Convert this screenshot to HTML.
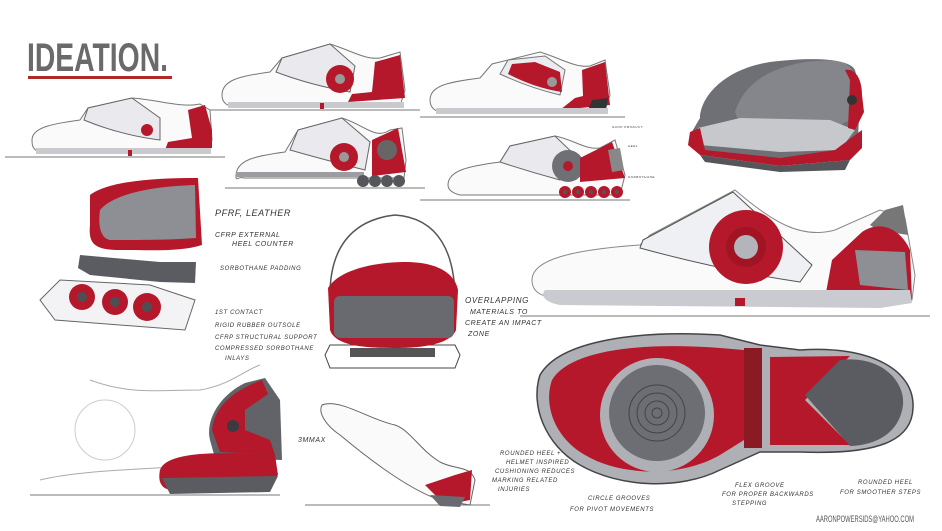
<!DOCTYPE html>
<html><head><meta charset="utf-8"><style>
html,body{margin:0;padding:0;background:#fff;}
svg{display:block}
text{font-family:"Liberation Sans",sans-serif;}
.h{font-family:"Liberation Sans",sans-serif;fill:#333;font-style:italic;letter-spacing:0.6px}
</style></head><body>
<svg width="942" height="531" viewBox="0 0 942 531" xmlns="http://www.w3.org/2000/svg">
<rect width="942" height="531" fill="#fff"/>
<!-- Title -->
<text x="27" y="71" font-size="40" font-weight="bold" fill="#6a6a6a" textLength="141" lengthAdjust="spacingAndGlyphs">IDEATION.</text>
<rect x="28" y="76" width="144" height="3" fill="#b02a2a"/>

<!-- ground lines -->
<g stroke="#777" stroke-width="1">
<line x1="5" y1="157" x2="225" y2="157"/>
<line x1="200" y1="110" x2="420" y2="110"/>
<line x1="420" y1="117" x2="625" y2="117"/>
<line x1="225" y1="188" x2="425" y2="188"/>
<line x1="420" y1="200" x2="630" y2="200"/>
<line x1="520" y1="316" x2="930" y2="316"/>
<line x1="30" y1="495" x2="280" y2="495"/>
<line x1="305" y1="505" x2="490" y2="505"/>
</g>

<!-- Shoe 1 -->
<g>
<path d="M32,140 C32,128 50,124 80,120 L88,108 L132,98 C160,100 180,108 200,104 L210,110 L212,140 L208,152 L40,152 C33,150 32,146 32,140Z" fill="#fafafa" stroke="#777"/>
<path d="M88,108 L132,98 L160,118 L160,140 Q120,135 84,120Z" fill="#eaeaee" stroke="#666"/>
<circle cx="147" cy="130" r="6" fill="#b5182a"/>
<path d="M188,110 L205,105 L212,130 L212,148 L165,150 L168,142 L192,138Z" fill="#b5182a"/>
<rect x="36" y="148" width="175" height="6" fill="#c9c9ce"/>
<rect x="128" y="150" width="4" height="6" fill="#b5182a"/>
</g>

<!-- Shoe 2 -->
<g>
<path d="M222,95 C222,80 240,76 270,72 L282,58 L330,44 C350,50 365,60 380,58 L400,52 L405,90 L400,106 L230,106 C224,104 222,100 222,95Z" fill="#fafafa" stroke="#777"/>
<path d="M282,58 L330,44 L355,66 L350,92 Q310,85 276,72Z" fill="#eaeaee" stroke="#666"/>
<circle cx="340" cy="79" r="14" fill="#b5182a"/><circle cx="340" cy="79" r="5" fill="#999"/>
<path d="M375,62 L400,55 L405,98 L348,102 L352,94 L372,92Z" fill="#b5182a"/>
<rect x="228" y="102" width="176" height="6" fill="#c9c9ce"/>
<rect x="320" y="103" width="4" height="6" fill="#b5182a"/>
</g>

<!-- Shoe 3 -->
<g>
<path d="M430,100 C430,85 450,82 480,78 L492,64 L540,52 C560,58 575,68 590,66 L605,60 L610,95 L604,112 L440,112 C432,110 430,105 430,100Z" fill="#fafafa" stroke="#777"/>
<path d="M508,60 L545,56 L565,70 L560,95 Q530,88 500,74Z" fill="#ececf0" stroke="#777"/>
<path d="M512,64 L535,62 L560,72 L562,92 Q535,88 508,74Z" fill="#b5182a"/>
<circle cx="552" cy="82" r="5" fill="#999"/>
<path d="M582,70 L605,62 L610,105 L560,110 L575,98 L583,96Z" fill="#b5182a"/>
<path d="M592,100 L608,98 L606,110 L588,110Z" fill="#333"/>
<rect x="436" y="108" width="172" height="6" fill="#c9c9ce"/>
</g>

<!-- seat top right -->
<g>
<path d="M700,118 C700,100 720,70 770,62 C820,56 850,60 855,70 L860,90 L858,140 L850,160 L780,165 L705,150 L690,135Z" fill="#6f7075"/>
<path d="M735,112 C742,90 760,70 805,62 C838,58 850,62 852,72 L850,120 L830,130 L740,125Z" fill="#85868b"/>
<path d="M698,128 L740,118 L830,120 L855,130 L840,150 L780,152 L700,145Z" fill="#c7c8cc"/>
<path d="M690,132 L700,128 L705,150 L780,158 L835,150 L862,130 L862,148 L850,160 L780,166 L700,155 L688,145Z" fill="#b5182a"/>
<path d="M845,70 C856,68 862,80 862,95 L864,112 L855,130 L848,128 L850,80Z" fill="#b5182a"/>
<circle cx="852" cy="100" r="5" fill="#333"/>
<path d="M700,155 L780,166 L850,160 L845,170 L780,172 L705,162Z" fill="#55565a"/>
</g>

<!-- Shoe 4 wheels -->
<g>
<path d="M236,176 C236,160 255,156 285,152 L298,130 L342,118 C365,125 375,140 390,130 L402,128 L406,160 L404,178 L244,178 C238,176 236,182 236,176Z" fill="#fafafa" stroke="#777"/>
<path d="M298,130 L342,118 L370,142 L365,170 Q325,160 290,150Z" fill="#eaeaee" stroke="#666"/>
<circle cx="344" cy="157" r="14" fill="#b5182a"/><circle cx="344" cy="157" r="5" fill="#999"/>
<path d="M372,140 L398,128 L406,172 L372,176Z" fill="#b5182a"/>
<circle cx="387" cy="150" r="10" fill="#666"/>
<rect x="236" y="172" width="128" height="5" fill="#9c9ca2"/>
<g fill="#55565a"><circle cx="363" cy="181" r="6"/><circle cx="375" cy="181" r="6"/><circle cx="387" cy="181" r="6"/><circle cx="399" cy="181" r="6"/></g>
</g>

<!-- Shoe 5 -->
<g>
<path d="M448,185 C448,170 470,166 500,162 L510,146 L555,136 C575,140 585,150 600,148 L615,140 L625,175 L620,195 L460,195 C452,193 448,190 448,185Z" fill="#fafafa" stroke="#777"/>
<path d="M510,146 L555,136 L580,160 L560,180 Q530,172 500,162Z" fill="#eaeaee" stroke="#666"/>
<circle cx="568" cy="166" r="16" fill="#6f7075"/><circle cx="568" cy="166" r="5" fill="#b5182a"/>
<path d="M580,158 L612,142 L625,178 L580,182Z" fill="#b5182a"/>
<path d="M608,150 L620,148 L624,170 L612,172Z" fill="#888"/>
<g fill="#b5182a"><circle cx="565" cy="192" r="6"/><circle cx="578" cy="192" r="6"/><circle cx="591" cy="192" r="6"/><circle cx="604" cy="192" r="6"/><circle cx="617" cy="192" r="6"/></g>
<g fill="#555"><circle cx="565" cy="192" r="2"/><circle cx="578" cy="192" r="2"/><circle cx="591" cy="192" r="2"/><circle cx="604" cy="192" r="2"/><circle cx="617" cy="192" r="2"/></g>
<text class="h" x="612" y="128" font-size="3">SHOP PRODUCT</text>
<text class="h" x="628" y="147" font-size="3">HEEL</text>
<text class="h" x="628" y="178" font-size="3">SORBOTHANE</text>
</g>

<!-- exploded heel -->
<g>
<path d="M90,195 C110,180 160,178 198,178 L202,245 C180,252 150,250 120,250 C95,250 88,244 90,225Z" fill="#b5182a"/>
<path d="M100,210 C115,192 160,186 195,185 L196,238 C170,240 140,240 110,240 C100,238 98,225 100,210Z" fill="#8d8f95"/>
<path d="M80,255 L160,262 L196,262 L195,283 L160,282 L90,275 L78,268Z" fill="#5b5c62"/>
<path d="M40,300 L60,280 L150,285 L195,300 L185,330 L55,320Z" fill="#f3f3f5" stroke="#666"/>
<g fill="#b5182a"><circle cx="82" cy="297" r="13"/><circle cx="115" cy="302" r="13"/><circle cx="147" cy="307" r="14"/></g>
<g fill="#4e4f55"><circle cx="82" cy="297" r="5"/><circle cx="115" cy="302" r="5"/><circle cx="147" cy="307" r="5"/></g>
<text class="h" x="215" y="216" font-size="9">PFRF, LEATHER</text>
<text class="h" x="215" y="237" font-size="7">CFRP EXTERNAL</text>
<text class="h" x="232" y="246" font-size="7">HEEL COUNTER</text>
<text class="h" x="220" y="270" font-size="6">SORBOTHANE PADDING</text>
<text class="h" x="215" y="314" font-size="6">1ST CONTACT</text>
<text class="h" x="215" y="327" font-size="6">RIGID RUBBER OUTSOLE</text>
<text class="h" x="215" y="339" font-size="6">CFRP STRUCTURAL SUPPORT</text>
<text class="h" x="215" y="350" font-size="6">COMPRESSED SORBOTHANE</text>
<text class="h" x="225" y="360" font-size="6">INLAYS</text>
</g>

<!-- rear view -->
<g>
<path d="M330,295 C330,250 350,220 395,215 C440,218 455,255 455,300 Z" fill="#fff" stroke="#555" stroke-width="1.5"/>
<path d="M325,355 L330,345 L455,345 L460,355 L455,368 L330,368Z" fill="#fff" stroke="#444"/>
<rect x="350" y="348" width="85" height="9" fill="#555"/>
<path d="M328,288 C340,268 380,262 405,262 C440,262 455,275 458,290 L456,330 C450,345 420,348 395,348 C360,348 335,345 330,330Z" fill="#b5182a"/>
<rect x="334" y="296" width="120" height="42" rx="6" fill="#686a70"/>
<text class="h" x="465" y="303" font-size="8">OVERLAPPING</text>
<text class="h" x="470" y="314" font-size="7">MATERIALS TO</text>
<text class="h" x="465" y="325" font-size="7">CREATE AN IMPACT</text>
<text class="h" x="468" y="336" font-size="7">ZONE</text>
</g>

<!-- big shoe -->
<g>
<path d="M532,280 C532,260 570,250 640,245 L650,235 L735,190 C770,220 800,240 835,230 L880,210 L905,218 L915,275 L912,300 L560,300 C540,296 532,292 532,280Z" fill="#fafafa" stroke="#888"/>
<path d="M643,240 L733,192 L812,265 L800,282 Q720,270 640,248Z" fill="#eef0f3" stroke="#555"/>
<circle cx="746" cy="247" r="37" fill="#b5182a"/><circle cx="746" cy="247" r="20" fill="#a01424"/><circle cx="746" cy="247" r="12" fill="#b3b5ba"/>
<path d="M870,225 L885,210 L903,205 L908,235 L878,230Z" fill="#777"/>
<path d="M862,232 C880,220 900,228 910,250 L912,300 L825,298 L832,260Z" fill="#b5182a"/>
<path d="M855,250 L905,252 L908,290 L860,285Z" fill="#8d8f95"/>
<path d="M545,290 L910,290 L912,303 L880,308 L560,305 C545,302 540,296 545,290Z" fill="#c9cbd0"/>
<rect x="735" y="298" width="10" height="8" fill="#b5182a"/>
</g>

<!-- sole -->
<g>
<path d="M540,375 C560,340 640,330 720,335 L760,345 L800,350 C870,345 915,370 913,408 C912,440 880,455 800,452 L760,452 L720,470 C680,490 620,488 580,465 C545,445 530,405 540,375Z" fill="#aeb0b6" stroke="#444" stroke-width="1.5"/>
<path d="M552,380 C570,350 640,342 720,348 L744,350 L744,440 L720,455 C680,478 620,476 585,455 C555,438 543,405 552,380Z" fill="#b5182a"/>
<rect x="744" y="348" width="18" height="100" fill="#8a1a24"/>
<path d="M770,357 L850,356 L805,400 L850,445 L770,445Z" fill="#b5182a"/>
<path d="M805,395 L840,360 C880,355 905,380 903,405 C900,430 880,445 850,446Z" fill="#5b5c62"/>
<circle cx="657" cy="415" r="57" fill="#aeb0b6"/>
<circle cx="657" cy="413" r="48" fill="#6c6e74"/>
<g fill="none" stroke="#444" stroke-width="1"><circle cx="657" cy="413" r="28"/><circle cx="657" cy="413" r="20"/><circle cx="657" cy="413" r="12"/><circle cx="657" cy="413" r="5"/></g>
<text class="h" x="588" y="500" font-size="6">CIRCLE GROOVES</text>
<text class="h" x="570" y="511" font-size="6">FOR PIVOT MOVEMENTS</text>
<text class="h" x="735" y="487" font-size="6">FLEX GROOVE</text>
<text class="h" x="722" y="496" font-size="6">FOR PROPER BACKWARDS</text>
<text class="h" x="732" y="505" font-size="6">STEPPING</text>
<text class="h" x="858" y="484" font-size="6">ROUNDED HEEL</text>
<text class="h" x="840" y="494" font-size="6">FOR SMOOTHER STEPS</text>
<text x="816" y="522" font-size="9" fill="#555" textLength="98" lengthAdjust="spacingAndGlyphs">AARONPOWERSIDS@YAHOO.COM</text>
</g>

<!-- bottom left heel -->
<g>
<path d="M40,480 C80,470 140,470 200,465" stroke="#aaa" fill="none"/>
<path d="M90,380 C130,395 160,390 200,390 C230,385 245,370 260,365" stroke="#aaa" fill="none"/>
<circle cx="105" cy="430" r="30" fill="none" stroke="#ccc"/>
<path d="M210,440 C205,420 220,395 245,383 L265,378 L280,400 L282,460 L215,458Z" fill="#616369"/>
<path d="M212,430 C215,405 235,390 262,380 L268,394 L245,410 L245,430 L270,440 L275,455 L220,452Z" fill="#b5182a"/>
<circle cx="233" cy="426" r="6" fill="#3a3b40"/>
<path d="M160,470 C165,455 200,450 275,455 L278,475 L265,488 L170,490 C160,488 158,480 160,470Z" fill="#b5182a"/>
<path d="M162,478 L278,476 L270,492 L170,494Z" fill="#5b5c62"/>
<text class="h" x="298" y="442" font-size="7">3MMAX</text>
</g>

<!-- bottom mid shoe -->
<g>
<path d="M322,405 C340,398 370,420 395,425 C410,430 420,450 440,462 C455,470 470,465 475,480 L470,505 L440,500 C410,490 370,460 340,435 C325,425 318,412 322,405Z" fill="#fafafa" stroke="#666"/>
<path d="M425,485 L455,475 L472,470 L470,500 L445,505Z" fill="#b5182a"/>
<path d="M430,495 L465,497 L460,507 L440,506Z" fill="#6a6b70"/>
<text class="h" x="500" y="455" font-size="6">ROUNDED HEEL +</text>
<text class="h" x="506" y="464" font-size="6">HELMET INSPIRED</text>
<text class="h" x="495" y="473" font-size="6">CUSHIONING REDUCES</text>
<text class="h" x="492" y="482" font-size="6">MARKING RELATED</text>
<text class="h" x="498" y="491" font-size="6">INJURIES</text>
</g>
</svg>
</body></html>
